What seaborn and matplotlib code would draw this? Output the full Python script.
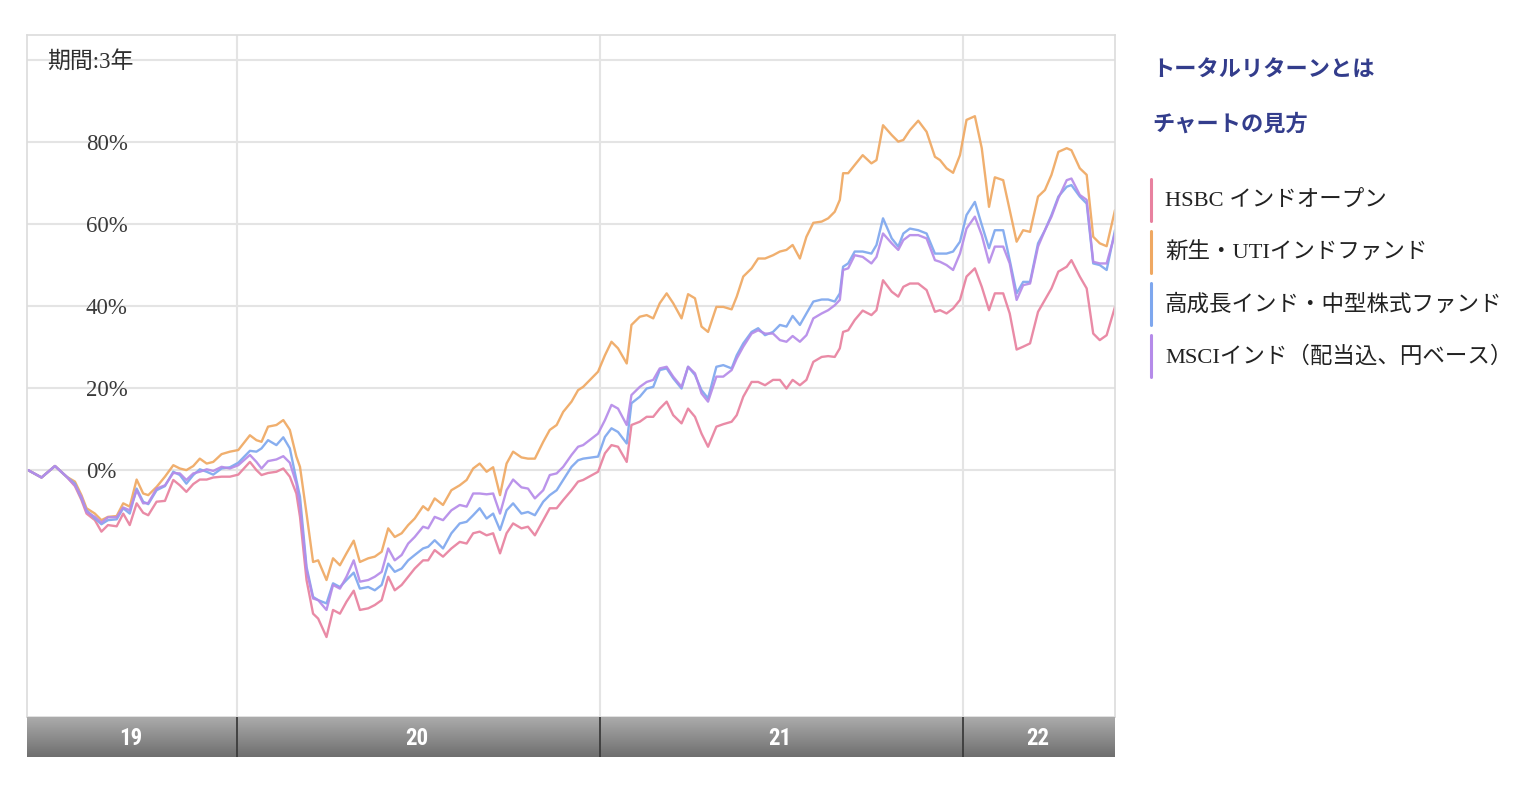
import numpy as np
import pandas as pd
import matplotlib
matplotlib.use("Agg")
import matplotlib.pyplot as plt
from matplotlib.colors import LinearSegmentedColormap
from matplotlib.lines import Line2D
import matplotlib.transforms as mtransforms
from matplotlib import font_manager
import seaborn as sns

# ---------------- data ----------------
period_label = "期間:3年"
link_labels = ["トータルリターンとは", "チャートの見方"]
series_names = ["HSBC インドオープン", "新生・UTIインドファンド",
                "高成長インド・中型株式ファンド", "MSCIインド（配当込、円ベース）"]
series_colors = ["#e8819f", "#efa862", "#7ea7ee", "#b58be9"]
year_labels = ["19", "20", "21", "22"]
year_starts = [2020, 2021, 2022]
x_range = [2019.422, 2022.419]
y_ticks = [0, 20, 40, 60, 80, 100]
y_tick_labels = ["0%", "20%", "40%", "60%", "80%", ""]

# time as decimal years
t = [2019.425, 2019.462, 2019.499, 2019.531, 2019.554, 2019.572, 2019.586, 2019.609, 2019.627, 2019.645,
     2019.669, 2019.687, 2019.705, 2019.724, 2019.742, 2019.756, 2019.779, 2019.802, 2019.825, 2019.843,
     2019.861, 2019.880, 2019.898, 2019.917, 2019.935, 2019.958, 2019.981, 2020.004, 2020.036, 2020.054,
     2020.068, 2020.086, 2020.109, 2020.128, 2020.146, 2020.164, 2020.174, 2020.192, 2020.210, 2020.224,
     2020.247, 2020.265, 2020.284, 2020.302, 2020.322, 2020.339, 2020.362, 2020.380, 2020.399, 2020.417,
     2020.435, 2020.454, 2020.472, 2020.490, 2020.513, 2020.527, 2020.545, 2020.568, 2020.591, 2020.614,
     2020.633, 2020.651, 2020.669, 2020.688, 2020.706, 2020.725, 2020.743, 2020.761, 2020.784, 2020.802,
     2020.821, 2020.844, 2020.862, 2020.881, 2020.899, 2020.922, 2020.940, 2020.954, 2020.995, 2021.014,
     2021.032, 2021.050, 2021.074, 2021.087, 2021.110, 2021.129, 2021.147, 2021.165, 2021.184, 2021.202,
     2021.225, 2021.243, 2021.262, 2021.280, 2021.298, 2021.321, 2021.340, 2021.363, 2021.377, 2021.395,
     2021.418, 2021.436, 2021.455, 2021.477, 2021.496, 2021.514, 2021.531, 2021.551, 2021.569, 2021.588,
     2021.611, 2021.629, 2021.647, 2021.661, 2021.670, 2021.684, 2021.702, 2021.724, 2021.748, 2021.762,
     2021.780, 2021.804, 2021.822, 2021.836, 2021.854, 2021.877, 2021.900, 2021.923, 2021.937, 2021.955,
     2021.973, 2021.992, 2022.010, 2022.033, 2022.052, 2022.072, 2022.088, 2022.111, 2022.129, 2022.148,
     2022.166, 2022.185, 2022.207, 2022.226, 2022.244, 2022.263, 2022.286, 2022.299, 2022.322, 2022.341,
     2022.359, 2022.377, 2022.396, 2022.419]

hsbc = [0, -1.8, 1.0, -1.6, -3.9, -7.3, -10.6, -12.2, -15.0, -13.4,
        -13.7, -10.6, -13.4, -8.1, -10.4, -11.0, -7.7, -7.5, -2.4, -3.7,
        -5.3, -3.4, -2.3, -2.3, -1.8, -1.6, -1.6, -1.1, 2.0, 0.0,
        -1.2, -0.7, -0.4, 0.4, -1.6, -5.7, -11.4, -26.8, -35.0, -36.2,
        -40.7, -34.1, -35.0, -32.1, -29.4, -34.1, -33.7, -32.9, -31.7, -26.0,
        -29.3, -28.0, -26.0, -24.0, -22.0, -22.0, -19.5, -21.1, -19.1, -17.5,
        -17.9, -15.4, -15.0, -15.9, -15.4, -20.3, -15.4, -13.0, -14.2, -13.8,
        -15.9, -12.2, -9.3, -9.3, -7.3, -4.9, -2.8, -2.4, -0.4, 4.1,
        6.1, 5.7, 2.0, 11.0, 11.8, 13.0, 13.0, 15.0, 16.7, 13.4,
        11.4, 15.0, 13.0, 8.9, 5.7, 10.6, 11.2, 11.8, 13.4, 17.9,
        21.5, 21.5, 20.7, 22.0, 22.0, 19.9, 22.0, 20.7, 22.0, 26.4,
        27.6, 27.8, 27.6, 29.7, 33.7, 34.1, 36.6, 38.9, 37.8, 39.0,
        46.3, 43.5, 42.3, 44.7, 45.5, 45.5, 43.9, 38.6, 39.0, 38.2,
        39.4, 41.5, 47.2, 49.2, 44.7, 39.0, 43.1, 43.1, 38.2, 29.4,
        30.1, 30.9, 38.6, 41.5, 44.3, 48.4, 49.6, 51.2, 47.2, 44.3,
        33.3, 31.7, 32.9, 39.8]

shinsei_uti = [0, -1.8, 1.0, -1.6, -2.8, -6.1, -9.3, -10.6, -12.2, -11.4,
               -11.2, -8.1, -8.9, -2.3, -5.7, -6.1, -4.1, -1.6, 1.2, 0.4,
               0.0, 1.0, 2.8, 1.6, 2.0, 3.9, 4.5, 4.9, 8.5, 7.3,
               6.9, 10.6, 11.0, 12.2, 9.8, 3.3, 0.8, -10.6, -22.4, -22.0,
               -26.8, -21.5, -23.2, -20.3, -17.2, -22.4, -21.5, -21.1, -19.9, -14.2,
               -16.3, -15.4, -13.4, -11.8, -8.8, -9.8, -6.9, -8.5, -4.9, -3.7,
               -2.4, 0.4, 1.6, -0.4, 0.7, -6.1, 1.6, 4.5, 3.1, 2.8,
               2.8, 6.9, 9.8, 11.0, 14.2, 16.7, 19.5, 20.3, 24.0, 28.0,
               31.3, 29.7, 26.0, 35.4, 37.4, 37.8, 37.0, 40.7, 43.1, 40.7,
               37.0, 42.9, 41.9, 35.0, 33.7, 39.8, 39.8, 39.2, 42.3, 47.2,
               49.2, 51.6, 51.6, 52.4, 53.3, 53.7, 54.9, 51.6, 56.9, 60.3,
               60.6, 61.4, 63.0, 65.9, 72.4, 72.4, 74.4, 76.8, 74.8, 75.6,
               84.1, 81.7, 80.1, 80.5, 82.9, 85.2, 82.5, 76.4, 75.6, 73.6,
               72.5, 76.8, 85.4, 86.3, 78.5, 64.2, 71.4, 70.7, 63.4, 55.7,
               58.5, 58.1, 66.7, 68.3, 72.0, 77.6, 78.5, 78.0, 73.6, 72.0,
               56.9, 55.3, 54.6, 63.4]

midcap = [0, -1.8, 1.0, -1.6, -3.3, -6.9, -9.8, -11.8, -13.2, -12.2,
          -12.0, -9.3, -10.6, -4.5, -7.7, -8.3, -4.9, -3.9, -0.4, -1.2,
          -3.3, -1.2, 0.2, -0.4, -1.1, 0.4, 0.7, 1.8, 4.7, 4.5,
          5.3, 7.3, 6.1, 8.0, 5.3, -2.4, -6.5, -23.6, -30.9, -31.7,
          -32.5, -27.6, -28.5, -26.8, -25.0, -28.9, -28.5, -29.3, -28.0, -22.8,
          -24.8, -24.0, -22.0, -20.7, -19.1, -18.7, -17.1, -19.1, -15.4, -13.0,
          -12.6, -11.0, -9.3, -11.8, -10.6, -14.6, -9.8, -8.1, -10.6, -10.2,
          -11.0, -7.7, -6.1, -4.9, -2.4, 0.8, 2.4, 2.8, 3.3, 8.1,
          10.2, 9.3, 6.5, 16.3, 17.9, 19.9, 20.3, 24.4, 24.8, 22.4,
          19.9, 25.2, 23.2, 19.5, 17.5, 25.2, 25.6, 24.8, 28.0, 30.9,
          33.7, 34.6, 32.9, 33.7, 35.4, 35.0, 37.6, 35.4, 38.2, 41.1,
          41.6, 41.6, 41.1, 43.1, 49.6, 50.4, 53.3, 53.3, 52.8, 54.9,
          61.4, 56.5, 54.5, 57.7, 58.9, 58.5, 57.7, 52.8, 52.8, 52.8,
          53.3, 55.7, 62.2, 65.4, 59.8, 54.1, 58.5, 58.5, 51.2, 43.1,
          45.9, 45.9, 55.3, 58.5, 62.2, 66.7, 69.1, 69.5, 66.7, 65.0,
          50.4, 50.0, 48.8, 58.5]

msci = [0, -1.8, 1.0, -1.6, -3.7, -6.5, -10.2, -11.4, -12.8, -11.5,
        -11.5, -9.1, -9.8, -4.9, -8.1, -8.0, -4.5, -3.7, -0.7, -0.8,
        -2.4, -0.8, -0.4, 0.2, -0.2, 0.8, 0.4, 1.2, 3.7, 2.0,
        0.4, 2.2, 2.6, 3.4, 1.8, -3.3, -8.9, -24.4, -31.3, -31.7,
        -34.1, -28.0, -28.9, -26.0, -22.0, -27.2, -26.8, -26.0, -24.8, -19.1,
        -22.0, -20.7, -17.9, -16.3, -13.8, -14.2, -11.4, -12.2, -9.8, -8.5,
        -8.9, -5.7, -5.7, -5.9, -5.7, -10.6, -4.9, -2.3, -4.2, -4.5,
        -6.9, -4.9, -1.2, -0.8, 0.8, 3.7, 5.7, 6.1, 8.9, 12.2,
        15.9, 15.0, 11.0, 18.3, 20.3, 21.5, 22.0, 24.8, 25.2, 22.8,
        20.3, 25.2, 23.6, 18.7, 16.7, 22.8, 22.8, 24.4, 27.2, 30.1,
        33.3, 34.1, 33.3, 33.3, 31.7, 31.3, 32.7, 31.3, 32.9, 37.0,
        38.2, 39.0, 40.2, 41.5, 48.8, 49.2, 52.4, 52.0, 50.4, 52.0,
        57.7, 55.3, 53.7, 56.1, 57.3, 57.3, 56.5, 51.2, 50.8, 50.0,
        48.8, 52.8, 58.9, 61.8, 57.3, 50.6, 54.5, 54.5, 50.4, 41.5,
        45.1, 45.5, 54.5, 58.5, 61.8, 66.3, 70.7, 71.1, 67.1, 65.9,
        50.8, 50.4, 50.4, 57.7]

series_values = [hsbc, shinsei_uti, midcap, msci]

# ---------------- styling ----------------
sns.set_theme(style="white")
FONT = ["Liberation Serif", "Noto Sans CJK JP", "DejaVu Sans"]
plt.rcParams["font.family"] = FONT

installed = {f.name for f in font_manager.fontManager.ttflist}
narrow = [f for f in ["Liberation Sans Narrow", "DejaVu Sans Condensed", "Roboto Condensed",
                      "Open Sans Condensed", "DejaVu Sans"] if f in installed][:1] or ["DejaVu Sans"]

W, H = 1532, 798
fig = plt.figure(figsize=(W / 100, H / 100), dpi=100)
fig.patch.set_facecolor("white")

px_l, px_r, px_t, px_b, bar_b = 27, 1115, 35, 717, 757
ax = fig.add_axes([px_l / W, (H - px_b) / H, (px_r - px_l) / W, (px_b - px_t) / H])
bar = fig.add_axes([px_l / W, (H - bar_b) / H, (px_r - px_l) / W, (bar_b - px_b) / H])

df = pd.concat([pd.DataFrame({"t": t, "value": v, "series": n})
                for n, v in zip(series_names, series_values)], ignore_index=True)

sns.lineplot(data=df, x="t", y="value", hue="series", hue_order=series_names,
             palette=dict(zip(series_names, series_colors)), linewidth=1.7, alpha=0.92,
             estimator=None, sort=False, legend=False, ax=ax)

ax.set_xlim(*x_range)
ax.set_ylim(-60.2, 106.1)
ax.set_xticks(year_starts)
ax.set_yticks(y_ticks)
ax.grid(True, color="#e4e4e4", linewidth=1.5)
ax.set_axisbelow(True)
ax.tick_params(length=0, labelleft=False, labelbottom=False)
ax.set_xlabel("")
ax.set_ylabel("")
for s in ax.spines.values():
    s.set_color("#dcdcdc")
    s.set_linewidth(1.2)

trans = mtransforms.blended_transform_factory(ax.transAxes, ax.transData)
trans = mtransforms.offset_copy(trans, fig=fig, x=0, y=-2, units="dots")
for v, lab in zip(y_ticks, y_tick_labels):
    if lab:
        ax.text(0.0542, v, lab, transform=trans, ha="left", va="center",
                fontsize=16.5, color="#3a3a3a")

ax.text((47 - px_l) / (px_r - px_l), (px_b - 62) / (px_b - px_t), period_label,
        transform=ax.transAxes, ha="left", va="center", fontsize=16.5, color="#2e2e2e")

# ---------------- bottom year bar ----------------
cmap = LinearSegmentedColormap.from_list("bar", ["#ababab", "#6f6f6f"])
bar.imshow(np.linspace(0, 1, 64).reshape(-1, 1), extent=[x_range[0], x_range[1], 0, 1],
           aspect="auto", cmap=cmap, origin="upper")
bar.set_xlim(*x_range)
bar.set_ylim(0, 1)
for ys in year_starts:
    bar.axvline(ys, color="#3c3c3c", linewidth=1.3)
edges = [x_range[0]] + year_starts + [x_range[1]]
for lab, a, b in zip(year_labels, edges[:-1], edges[1:]):
    bar.text((a + b) / 2 - 0.004, 0.47, lab, ha="center", va="center", color="white",
             fontsize=16.5, fontweight="bold", family=narrow)
bar.set_xticks([])
bar.set_yticks([])
for s in bar.spines.values():
    s.set_visible(False)

# ---------------- right panel ----------------
fig.text(1152 / W, 1 - 72 / H, link_labels[0], ha="left", va="center",
         fontsize=16, color="#333d8c", fontweight="bold")
fig.text(1152 / W, 1 - 125 / H, link_labels[1], ha="left", va="center",
         fontsize=16, color="#333d8c", fontweight="bold")

for i, (name, col) in enumerate(zip(series_names, series_colors)):
    yc = 200 + 52 * i
    fig.add_artist(Line2D([1151 / W, 1151 / W], [1 - (yc - 21) / H, 1 - (yc + 21) / H],
                          color=col, linewidth=2.2, transform=fig.transFigure))
    fig.text(1165 / W, 1 - (yc + 1) / H, name, ha="left", va="center",
             fontsize=16.2, color="#222222")

fig.savefig("out.png", dpi=100, facecolor="white")
